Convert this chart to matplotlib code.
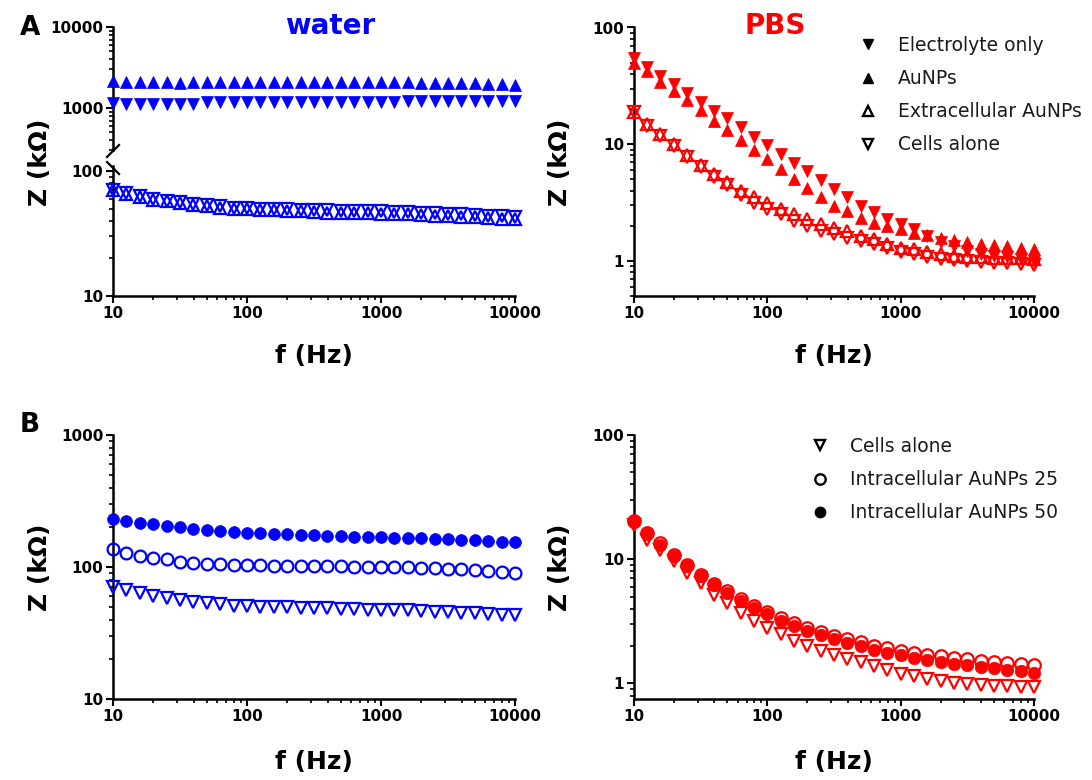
import matplotlib

matplotlib.use("Agg")
import matplotlib.pyplot as plt
import numpy as np
from matplotlib.lines import Line2D
from matplotlib.ticker import FuncFormatter, LogLocator, NullFormatter

W, H = 1092, 780
BLUE = "#0000ff"
RED = "#ff0000"
INK = "#1a1a1a"

plt.rcParams["font.family"] = ["DejaVu Sans"]
plt.rcParams["font.weight"] = "bold"

# ---- data -------------------------------------------------------------------
freq = [10, 12.6, 15.8, 20, 25.1, 31.6, 39.8, 50.1, 63.1, 79.4,
        100, 126, 158, 200, 251, 316, 398, 501, 631, 794,
        1000, 1259, 1585, 1995, 2512, 3162, 3981, 5012, 6310, 7943, 10000]

# water (kOhm)
water_electrolyte = [1140, 1130, 1120, 1120, 1110, 1110, 1110, 1200, 1200, 1200,
                     1200, 1200, 1200, 1200, 1200, 1200, 1200, 1200, 1200, 1200,
                     1200, 1200, 1230, 1230, 1230, 1230, 1230, 1230, 1230, 1220, 1220]
water_aunps = [2150, 2100, 2100, 2100, 2080, 2050, 2080, 2080, 2100, 2080,
               2080, 2080, 2080, 2080, 2080, 2080, 2080, 2080, 2080, 2080,
               2080, 2080, 2080, 2060, 2060, 2050, 2050, 2050, 2000, 1980, 1900]
water_extracellular = [71, 66, 62, 59, 57, 55, 53, 52, 51, 50,
                       49.5, 49, 48.5, 48, 47.5, 47, 46.5, 46.5, 46, 46,
                       45.5, 45, 45, 44.5, 44, 43.5, 43, 42.5, 42, 41.5, 41]
water_cells = [71, 67, 63, 60, 58, 56, 54, 53, 52, 51,
               50.5, 50, 50, 49.5, 49, 49, 48.5, 48, 48, 47.5,
               47.5, 47, 47, 46.5, 46, 45.5, 45, 44.5, 44, 43.5, 43]
water_intra25 = [136, 128, 122, 118, 114, 110, 108, 106, 105, 104,
                 103.5, 103, 102.5, 102, 102, 101.5, 101, 101, 100.5, 100.5,
                 100, 100, 99.5, 99, 98, 97, 96, 95, 93.5, 92, 90.5]
water_intra50 = [231, 222, 216, 210, 206, 200, 195, 191, 187, 184,
                 181, 179.5, 178, 176.5, 175, 174, 173, 171.5, 170, 169,
                 168, 167, 166, 165, 163.5, 162, 161, 159, 157, 155.5, 154]

# PBS (kOhm)
pbs_electrolyte = [55.3, 46, 38.5, 32.7, 27.7, 23.2, 19.3, 16.7, 13.9, 11.6,
                   9.8, 8.2, 6.9, 5.9, 4.9, 4.1, 3.5, 2.96, 2.6, 2.28,
                   2.06, 1.87, 1.64, 1.44, 1.35, 1.22, 1.14, 1.10, 1.07, 1.03, 1.0]
pbs_aunps = [50, 42, 34.4, 28.3, 24, 19.7, 15.8, 13.3, 10.8, 8.9,
             7.4, 6.1, 5.0, 4.2, 3.5, 2.96, 2.68, 2.35, 2.13, 2.0,
             1.87, 1.75, 1.66, 1.58, 1.50, 1.44, 1.39, 1.36, 1.33, 1.30, 1.26]
pbs_extracellular = [18.9, 14.8, 12.2, 10.1, 8.0, 6.6, 5.5, 4.75, 4.0, 3.5,
                     3.16, 2.78, 2.5, 2.28, 2.06, 1.91, 1.81, 1.64, 1.53, 1.40,
                     1.30, 1.26, 1.18, 1.14, 1.10, 1.08, 1.07, 1.06, 1.05, 1.05, 1.04]
pbs_cells = [18.7, 14.4, 11.8, 9.7, 7.7, 6.4, 5.2, 4.45, 3.7, 3.16,
             2.8, 2.51, 2.2, 2.0, 1.81, 1.69, 1.58, 1.48, 1.39, 1.28,
             1.2, 1.14, 1.08, 1.04, 1.01, 0.99, 0.97, 0.96, 0.95, 0.94, 0.93]
pbs_intra25 = [20.5, 16.3, 13.4, 10.9, 9.0, 7.5, 6.35, 5.5, 4.8, 4.2,
               3.75, 3.35, 3.05, 2.8, 2.6, 2.42, 2.27, 2.14, 2.02, 1.92,
               1.83, 1.76, 1.70, 1.65, 1.60, 1.56, 1.52, 1.49, 1.46, 1.43, 1.41]
pbs_intra50 = [20.0, 16.0, 13.1, 10.6, 8.8, 7.3, 6.2, 5.35, 4.65, 4.05,
               3.6, 3.2, 2.9, 2.65, 2.45, 2.27, 2.12, 1.99, 1.87, 1.77,
               1.68, 1.61, 1.54, 1.49, 1.44, 1.40, 1.36, 1.32, 1.29, 1.25, 1.21]

fig = plt.figure(figsize=(W / 100, H / 100), dpi=100)


def px_axes(x0, y0, x1, y1):
    return fig.add_axes([x0 / W, 1 - y1 / H, (x1 - x0) / W, (y1 - y0) / H])


def fx(x):
    return x / W


def fy(y):
    return 1 - y / H


fmt = FuncFormatter(lambda v, _: f"{v:g}")


def style(ax, ylim, xaxis=True):
    ax.set_xscale("log")
    ax.set_yscale("log")
    ax.set_xlim(10, 10000)
    ax.set_ylim(*ylim)
    ax.patch.set_alpha(0)
    for s in ("top", "right"):
        ax.spines[s].set_visible(False)
    for s in ("left", "bottom"):
        ax.spines[s].set_linewidth(1.8)
    for axis in (ax.xaxis, ax.yaxis):
        axis.set_major_locator(LogLocator(base=10, numticks=10))
        axis.set_minor_locator(LogLocator(base=10, subs=np.arange(2, 10), numticks=20))
        axis.set_major_formatter(fmt)
        axis.set_minor_formatter(NullFormatter())
    ax.tick_params(which="major", direction="out", length=5, width=1.5,
                   labelsize=11, pad=2, colors="black")
    ax.tick_params(which="minor", direction="out", length=2.8, width=1.2)
    if not xaxis:
        ax.spines["bottom"].set_visible(False)
        ax.tick_params(axis="x", which="both", bottom=False, labelbottom=False)


def series(ax, y, marker, color, filled, ms=8, z=3):
    if filled:
        ax.plot(freq, y, ls="none", marker=marker, ms=ms, color=color,
                mec=color, mew=0.5, zorder=z, clip_on=False)
    else:
        ax.plot(freq, y, ls="none", marker=marker, ms=ms, mfc="none",
                mec=color, mew=1.6, zorder=z, clip_on=False)


# ---- panel A, water (broken axis) -----------------------------------------
ax_hi = px_axes(113, 27, 515, 150.4)
ax_lo = px_axes(113, 165.8, 515, 296)
style(ax_hi, (300, 10000), xaxis=False)
style(ax_lo, (10, 110))
series(ax_hi, water_electrolyte, "v", BLUE, True)
series(ax_hi, water_aunps, "^", BLUE, True)
series(ax_lo, water_cells, "v", BLUE, False)
series(ax_lo, water_extracellular, "^", BLUE, False)

for (x0, y0, x1, y1) in [(107, 157, 119, 145), (107, 162, 119, 174)]:
    fig.add_artist(Line2D([fx(x0), fx(x1)], [fy(y0), fy(y1)], color="black", lw=1.6))

# ---- panel A, PBS -----------------------------------------------------------
ax_pbs = px_axes(634, 27.5, 1034, 296)
style(ax_pbs, (0.5, 100))
series(ax_pbs, pbs_cells, "v", RED, False)
series(ax_pbs, pbs_extracellular, "^", RED, False)
series(ax_pbs, pbs_aunps, "^", RED, True)
series(ax_pbs, pbs_electrolyte, "v", RED, True)

# ---- panel B, water ---------------------------------------------------------
ax_bw = px_axes(113, 435, 515, 699)
style(ax_bw, (10, 1000))
series(ax_bw, water_cells, "v", BLUE, False)
series(ax_bw, water_intra25, "o", BLUE, False, ms=8.5)
series(ax_bw, water_intra50, "o", BLUE, True, ms=8.5)

# ---- panel B, PBS -----------------------------------------------------------
ax_bp = px_axes(634, 435, 1034, 699)
style(ax_bp, (0.75, 100))
series(ax_bp, pbs_cells, "v", RED, False)
series(ax_bp, pbs_intra25, "o", RED, False, ms=9)
series(ax_bp, pbs_intra50, "o", RED, True, ms=9)

# ---- legends ----------------------------------------------------------------
def handle(marker, filled):
    if filled:
        return Line2D([], [], ls="none", marker=marker, ms=7.5, color="black")
    return Line2D([], [], ls="none", marker=marker, ms=7.5, mfc="none", mec="black", mew=1.7)


leg_kw = dict(loc="upper left", bbox_transform=fig.transFigure, frameon=False,
              borderpad=0, borderaxespad=0, handlelength=1.0, handletextpad=1.1,
              labelspacing=0.75, prop={"weight": "normal", "size": 13.5},
              labelcolor=INK)
ax_pbs.legend(handles=[handle("v", True), handle("^", True), handle("^", False), handle("v", False)],
              labels=["Electrolyte only", "AuNPs", "Extracellular AuNPs", "Cells alone"],
              bbox_to_anchor=(fx(858.6), fy(36)), **leg_kw)
ax_bp.legend(handles=[handle("v", False), handle("o", False), handle("o", True)],
             labels=["Cells alone", "Intracellular AuNPs 25", "Intracellular AuNPs 50"],
             bbox_to_anchor=(fx(810.6), fy(437)), **leg_kw)

# ---- text -------------------------------------------------------------------
fig.text(fx(30), fy(28), "A", fontsize=19, ha="center", va="center")
fig.text(fx(30), fy(425), "B", fontsize=19, ha="center", va="center")
fig.text(fx(330), fy(26), "water", fontsize=20, color=BLUE, ha="center", va="center")
fig.text(fx(775), fy(26), "PBS", fontsize=20, color=RED, ha="center", va="center")

for x, y in [(40, 162), (560, 162), (40, 567), (560, 567)]:
    fig.text(fx(x), fy(y), "Z (k\u03a9)", fontsize=18, rotation=90, ha="center", va="center")
for x, y in [(314, 356), (834, 356), (314, 762), (834, 762)]:
    fig.text(fx(x), fy(y), "f (Hz)", fontsize=18, ha="center", va="center")

fig.savefig("out.png", dpi=100, facecolor="white")
